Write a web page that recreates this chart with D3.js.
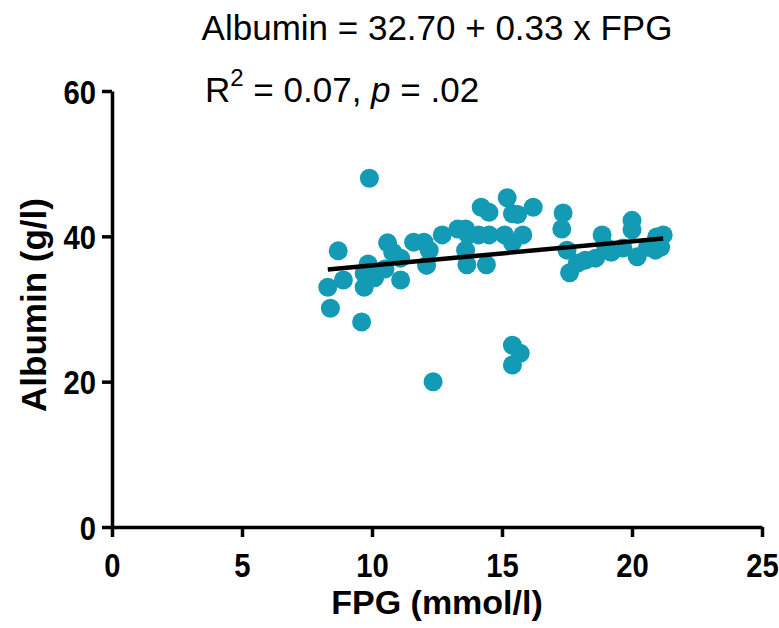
<!DOCTYPE html>
<html>
<head>
<meta charset="utf-8">
<script src="https://cdn.jsdelivr.net/npm/d3@7"></script>
<style>
  body { margin: 0; background: #fff; }
  svg { display: block; font-family: "Liberation Sans", Arial, sans-serif; }
  .tick text { font-weight: bold; font-size: 34px; fill: #000; }
</style>
</head>
<body>
<svg id="chart" width="779" height="628"></svg>
<script>
// FPG (mmol/l) and albumin (g/l)
const fpg = [
    8.3, 8.4, 8.7, 8.9, 9.6, 9.9, 9.7, 9.85, 9.7, 10.1,
    10.5, 10.6, 10.8, 11.1, 11.1, 11.6, 12.0, 12.2, 12.1, 12.35,
    12.7, 13.3, 13.6, 13.7, 13.6, 13.65, 14.1, 14.2, 14.5, 14.4,
    14.5, 15.1, 15.2, 15.4, 15.6, 15.4, 15.8, 16.2, 15.4, 15.7,
    15.4, 17.35, 17.3, 17.5, 17.6, 17.9, 18.2, 18.6, 18.85, 19.0,
    19.2, 19.65, 20.0, 20.0, 20.2, 20.6, 20.9, 20.95, 21.2, 21.1
];
const albumin = [
    33.0, 30.1, 38.0, 34.0, 28.2, 48.0, 33.0, 36.2, 34.9, 34.3,
    35.5, 39.1, 37.8, 37.0, 34.0, 39.2, 39.2, 38.1, 36.0, 20.0,
    40.2, 41.0, 41.0, 40.2, 38.1, 36.1, 40.2, 44.0, 43.3, 36.1,
    40.2, 40.2, 45.3, 43.1, 43.0, 39.1, 40.2, 44.0, 25.0, 23.9,
    22.3, 43.2, 41.0, 38.1, 35.0, 36.3, 36.7, 37.0, 40.2, 38.5,
    37.8, 38.4, 42.2, 40.9, 37.2, 38.5, 38.1, 39.9, 40.2, 38.5
];

// regression line from the equation in the title
const intercept = 32.70;
const slope = 0.33;

const xTicks = [0, 5, 10, 15, 20, 25];
const yTicks = [0, 20, 40, 60];

const svg = d3.select("#chart");
const margin = {left: 112, right: 17, top: 91, bottom: 101};
const width = 779 - margin.left - margin.right;
const height = 628 - margin.top - margin.bottom;

const x = d3.scaleLinear().domain([0, 25]).range([0, width]);
const y = d3.scaleLinear().domain([0, 60]).range([height, 0]);

const g = svg.append("g")
    .attr("transform", `translate(${margin.left},${margin.top})`);

// points
const data = fpg.map((v, i) => ({x: v, y: albumin[i]}));
g.selectAll("circle")
    .data(data)
    .join("circle")
    .attr("cx", d => x(d.x))
    .attr("cy", d => y(d.y))
    .attr("r", 9.5)
    .attr("fill", "#139ab4");

// fit line over the data range
const xmin = d3.min(fpg), xmax = d3.max(fpg);
g.append("line")
    .attr("x1", x(xmin)).attr("y1", y(intercept + slope * xmin))
    .attr("x2", x(xmax)).attr("y2", y(intercept + slope * xmax))
    .attr("stroke", "#000")
    .attr("stroke-width", 4.5);

// axes
const xaxis = d3.axisBottom(x).tickValues(xTicks).tickSize(10).tickSizeOuter(0).tickPadding(16);
const yaxis = d3.axisLeft(y).tickValues(yTicks).tickSize(10).tickSizeOuter(0).tickPadding(6);

const xg = g.append("g").attr("transform", `translate(0,${height})`).call(xaxis);
const yg = g.append("g").call(yaxis);

[xg, yg].forEach(a => {
    a.selectAll("path, line").attr("stroke", "#000").attr("stroke-width", 3.5);
});
// the original tick font is a bit narrow
xg.selectAll(".tick text").attr("transform", "scale(0.86,1)");
yg.selectAll(".tick text")
    .attr("dy", "0.36em")
    .attr("x", -16 / 0.86)
    .attr("transform", "scale(0.86,1)");

// axis titles
svg.append("text")
    .attr("x", 437).attr("y", 614)
    .attr("text-anchor", "middle")
    .attr("font-size", 34).attr("font-weight", "bold")
    .text("FPG (mmol/l)");

svg.append("text")
    .attr("transform", "translate(46,305) rotate(-90)")
    .attr("text-anchor", "middle")
    .attr("font-size", 35).attr("font-weight", "bold")
    .text("Albumin (g/l)");

// equation text
svg.append("text")
    .attr("x", 437).attr("y", 40)
    .attr("text-anchor", "middle")
    .attr("font-size", 35)
    .text("Albumin = 32.70 + 0.33 x FPG");

const stat = svg.append("text")
    .attr("x", 205).attr("y", 102)
    .attr("font-size", 35);
stat.append("tspan").text("R");
stat.append("tspan").attr("font-size", 24).attr("dy", -16).text("2");
stat.append("tspan").attr("dy", 16).text(" = 0.07, ");
stat.append("tspan").attr("font-style", "italic").text("p");
stat.append("tspan").text(" = .02");
</script>
</body>
</html>
